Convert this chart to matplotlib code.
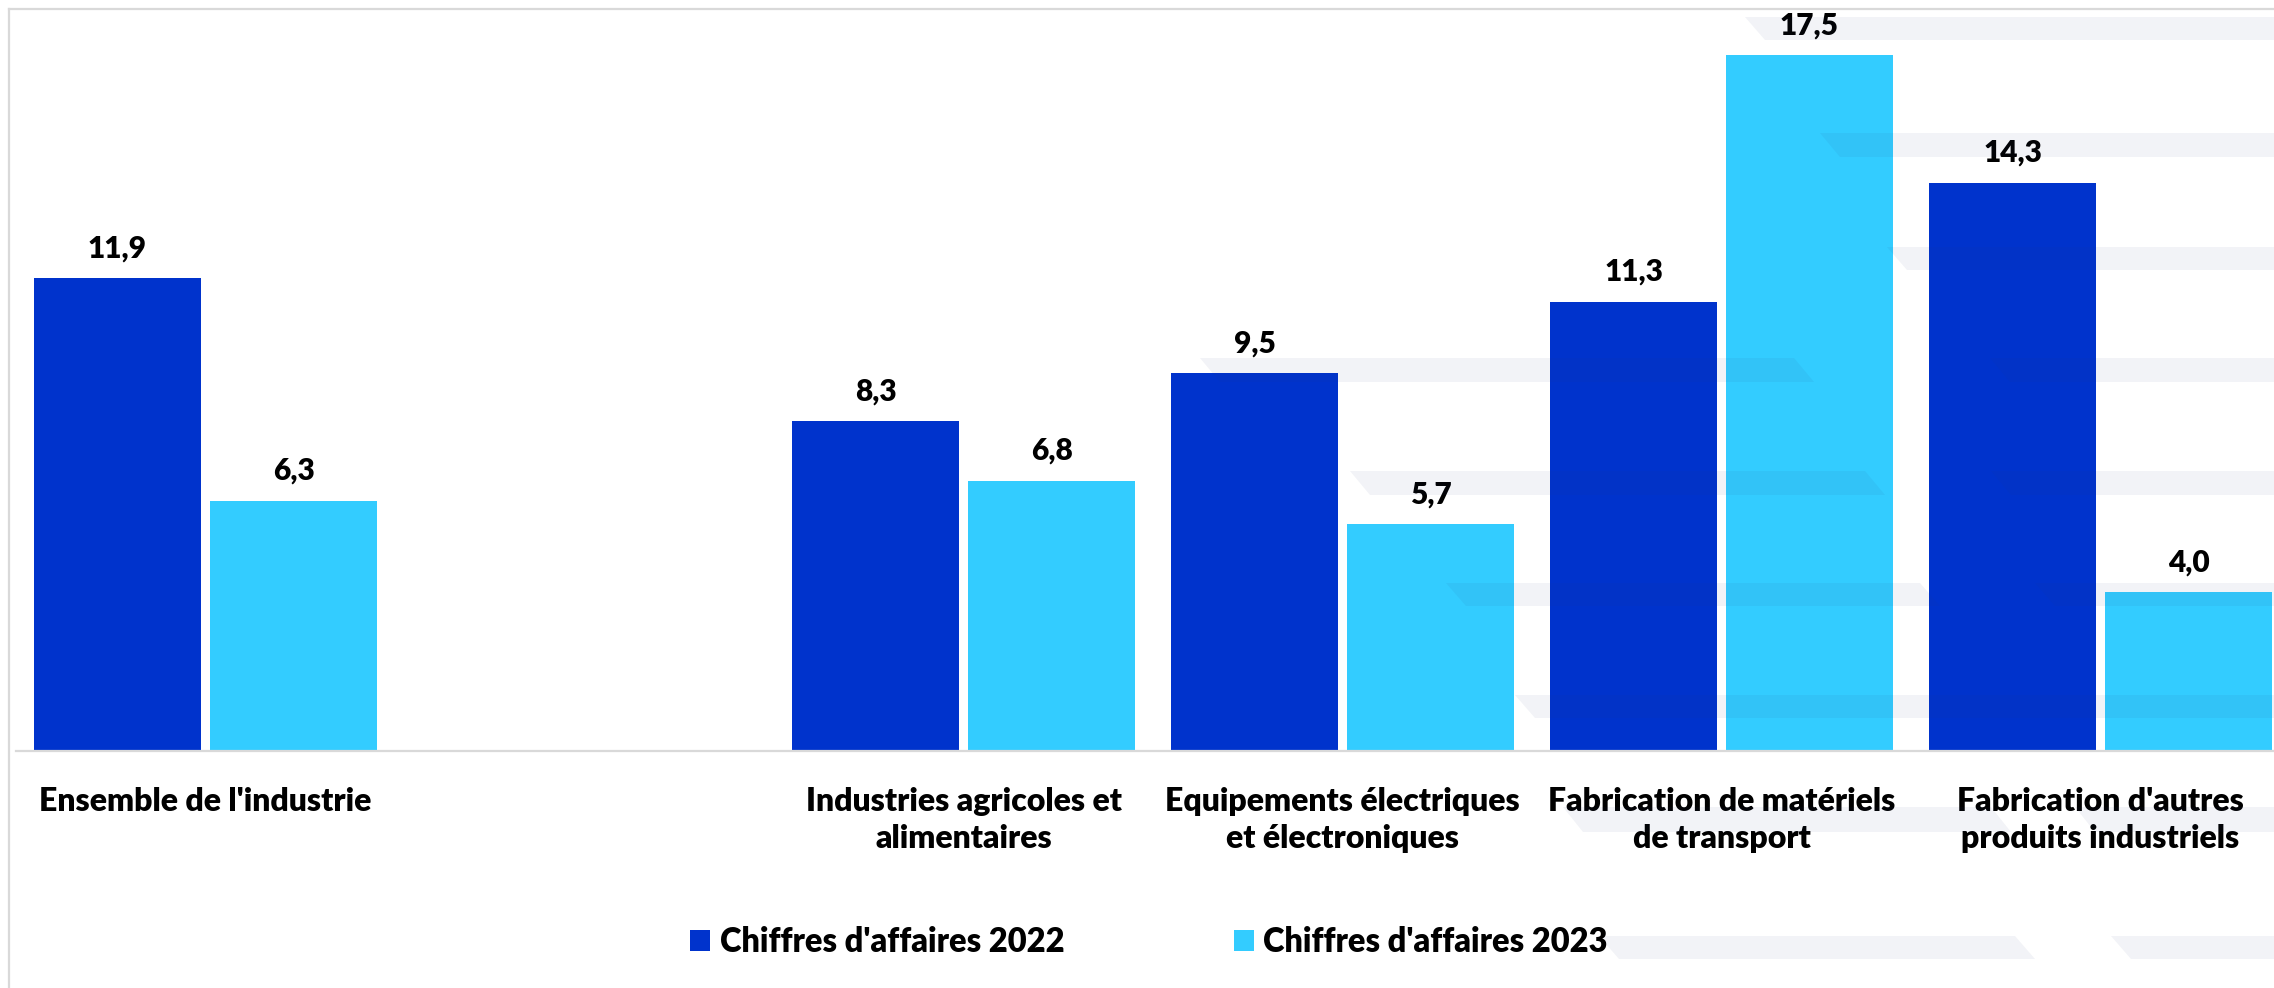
import numpy as np
import matplotlib
matplotlib.use("Agg")
import matplotlib.pyplot as plt
from matplotlib.patches import Polygon
from matplotlib.lines import Line2D

# ---------------- data ----------------
categories = [
    "Ensemble de l'industrie",
    "",
    "Industries agricoles et\nalimentaires",
    "Equipements électriques\net électroniques",
    "Fabrication de matériels\nde transport",
    "Fabrication d'autres\nproduits industriels",
]
ca_2022 = [11.9, np.nan, 8.3, 9.5, 11.3, 14.3]
ca_2023 = [6.3, np.nan, 6.8, 5.7, 17.5, 4.0]
series_labels = ["Chiffres d'affaires 2022", "Chiffres d'affaires 2023"]
colors = ["#0033cc", "#33ccff"]

W, H = 2274, 988
DPI = 100
FONT = "Lato"
WEIGHT = "heavy"

plt.rcParams["font.family"] = [FONT, "DejaVu Sans"]

fig = plt.figure(figsize=(W / DPI, H / DPI), dpi=DPI)

ax_left_px, ax_right_px = 16, 16 + 2274
ax_top_px, ax_base_px = 9, 751
ax = fig.add_axes([ax_left_px / W, 1 - ax_base_px / H,
                   (ax_right_px - ax_left_px) / W, (ax_base_px - ax_top_px) / H])

x = np.arange(len(categories))
bw = 0.4406
off = 0.2322
b1 = ax.bar(x - off, ca_2022, width=bw, color=colors[0], label=series_labels[0], zorder=2)
b2 = ax.bar(x + off, ca_2023, width=bw, color=colors[1], label=series_labels[1], zorder=2)

for bars, vals in ((b1, ca_2022), (b2, ca_2023)):
    for rect, v in zip(bars, vals):
        if np.isnan(v):
            continue
        ax.annotate(f"{v:.1f}".replace(".", ","),
                    (rect.get_x() + rect.get_width() / 2, v),
                    xytext=(0, 15), textcoords="offset points",
                    ha="center", va="baseline", fontsize=21.5,
                    fontweight=WEIGHT, color="black")

ax.set_xlim(-0.5, len(categories) - 0.5)
ax.set_ylim(0, (ax_base_px - ax_top_px) / 39.75)

tick_pos = [i for i, c in enumerate(categories) if c]
ax.set_xticks(tick_pos)
ax.set_xticklabels([categories[i] for i in tick_pos], fontsize=23,
                   fontweight=WEIGHT, linespacing=1.33)
ax.tick_params(axis="x", length=0, pad=26)
ax.set_yticks([])
for s in ("top", "left", "right"):
    ax.spines[s].set_visible(False)
ax.spines["bottom"].set_color("#d9d9d9")
ax.spines["bottom"].set_linewidth(1.6)
ax.set_facecolor("none")

def px(xp, yp):
    return xp / W, 1 - yp / H

# chart-area border (top and left visible)
fig.add_artist(Line2D([9 / W, 1.0], [1 - 9 / H, 1 - 9 / H], color="#d9d9d9",
                      lw=1.6, transform=fig.transFigure))
fig.add_artist(Line2D([9 / W, 9 / W], [1 - 9 / H, 0], color="#d9d9d9",
                      lw=1.6, transform=fig.transFigure))

# faint watermark stripes
stripes = [
    (17, 40, 1745, 2300), (133, 157, 1820, 2300), (247, 270, 1887, 2300),
    (358, 382, 1200, 1794), (358, 382, 1990, 2300),
    (471, 495, 1350, 1865), (471, 495, 1991, 2300),
    (583, 606, 1446, 1920), (583, 606, 2035, 2300),
    (695, 718, 1515, 2300),
    (807, 832, 1563, 1991), (807, 832, 2075, 2300),
    (936, 959, 1599, 2015), (936, 959, 2111, 2300),
]
sl = 20
for yt, yb, xl, xr in stripes:
    poly = [px(xl, yt), px(xr, yt), px(xr + sl, yb), px(xl + sl, yb)]
    fig.add_artist(Polygon(poly, closed=True, transform=fig.transFigure,
                           facecolor="#26377a", alpha=0.06, edgecolor="none",
                           zorder=5))

leg = fig.legend(handles=[b1, b2], labels=series_labels, loc="center",
                 bbox_to_anchor=(1149 / W, 1 - 942 / H), ncol=2, frameon=False,
                 prop={"family": [FONT], "weight": WEIGHT, "size": 23.5},
                 handlelength=0.6, handleheight=0.6, handletextpad=0.3,
                 columnspacing=5.2)

fig.savefig("out.png", dpi=DPI, facecolor="white")
